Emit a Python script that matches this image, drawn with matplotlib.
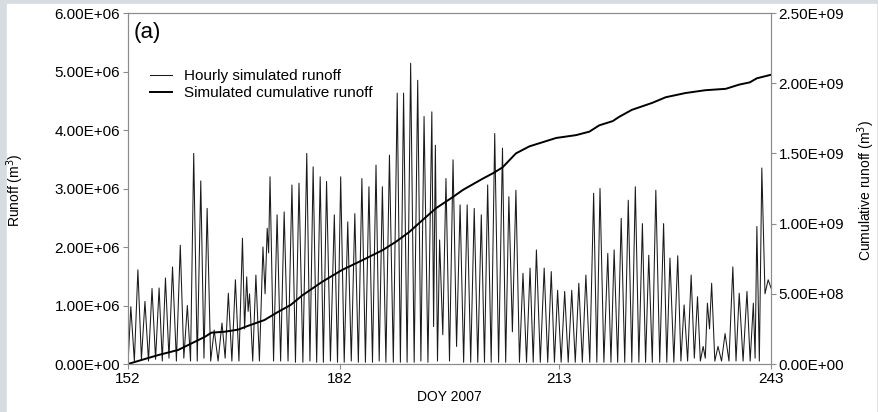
import numpy as np
import matplotlib
matplotlib.use("Agg")
import matplotlib.pyplot as plt
from matplotlib.patches import Rectangle
from matplotlib.ticker import FuncFormatter

plt.rcParams["font.family"] = ["Liberation Sans", "DejaVu Sans"]

# daily runoff peaks (DOY, million m3)
peak_doy = [152.4, 153.4, 154.4, 155.4, 156.4, 157.3, 158.3, 159.4, 160.4, 161.3,
            162.3, 163.2, 164.2, 165.3, 166.2, 167.2, 168.2, 168.8, 169.2, 170.1,
            171.1, 171.7, 172.1, 173.1, 174.1, 175.2, 176.2, 177.3, 178.2, 179.2,
            180.1, 181.2, 182.1, 183.1, 184.1, 185.1, 186.1, 187.1, 188.0, 189.0,
            190.1, 191.0, 192.0, 193.0, 193.9, 195.0, 195.5, 196.1, 197.0, 198.0,
            199.0, 200.0, 201.0, 202.0, 202.9, 203.9, 205.0, 205.9, 206.9, 207.9,
            208.9, 209.8, 210.9, 211.9, 212.8, 213.8, 214.8, 215.8, 216.8, 217.9,
            218.8, 219.9, 220.8, 221.8, 222.8, 223.8, 224.8, 225.7, 226.7, 227.8,
            228.7, 229.8, 230.7, 231.7, 232.6, 233.4, 234.0, 234.6, 235.5, 236.5,
            237.6, 238.5, 239.6, 240.5, 241.0, 241.7, 242.6]
peak_runoff = [0.98, 1.61, 1.07, 1.29, 1.30, 1.47, 1.66, 2.03, 1.00, 3.60,
               3.13, 2.66, 0.58, 0.70, 1.21, 1.44, 2.15, 1.49, 1.20, 1.52,
               2.00, 2.32, 3.20, 2.55, 2.60, 3.06, 3.09, 3.60, 3.37, 3.20,
               3.12, 2.55, 3.20, 2.43, 2.57, 3.17, 3.03, 3.40, 3.03, 3.57,
               4.63, 4.63, 5.14, 4.85, 4.23, 4.31, 3.74, 2.12, 3.17, 3.49,
               2.72, 2.72, 2.66, 2.55, 3.06, 3.94, 3.69, 2.86, 2.97, 1.55,
               1.64, 1.95, 1.64, 1.58, 1.26, 1.24, 1.26, 1.38, 1.52, 2.92,
               3.00, 1.89, 1.95, 2.49, 2.80, 3.03, 2.40, 1.86, 2.97, 2.40,
               1.81, 1.85, 1.01, 1.52, 1.15, 0.30, 1.04, 1.38, 0.30, 0.52,
               1.66, 1.21, 1.24, 1.04, 2.35, 3.35, 1.44]
# minimum reached after each peak (million m3)
trough_runoff = [0.05, 0.08, 0.05, 0.08, 0.05, 0.10, 0.05, 0.10, 0.05, 0.05,
                 0.10, 0.05, 0.05, 0.10, 0.05, 0.05, 0.60, 0.90, 0.05, 0.05,
                 1.20, 1.90, 0.05, 0.05, 0.05, 0.03, 0.03, 0.05, 0.03, 0.03,
                 0.05, 0.03, 0.03, 0.05, 0.03, 0.03, 0.03, 0.05, 0.03, 0.03,
                 0.03, 0.03, 0.03, 0.05, 0.03, 0.64, 0.05, 0.50, 0.05, 0.30,
                 0.03, 0.03, 0.03, 0.03, 0.03, 0.03, 0.03, 0.55, 0.03, 0.03,
                 0.03, 0.03, 0.03, 0.03, 0.03, 0.03, 0.03, 0.03, 0.03, 0.03,
                 0.03, 0.03, 0.03, 0.03, 0.03, 0.03, 0.03, 0.03, 0.03, 0.03,
                 0.03, 0.05, 0.05, 0.10, 0.05, 0.10, 0.60, 0.05, 0.05, 0.05,
                 0.05, 0.05, 0.05, 0.10, 0.05, 1.20]
start_runoff = 0.0
end_runoff = 1.30

# cumulative runoff (DOY, billion m3)
cum_doy = [152.0, 154.0, 156.3, 159.1, 161.0, 162.9, 163.8, 165.7, 167.6, 169.0,
           171.3, 173.2, 175.0, 176.7, 179.5, 182.3, 185.2, 188.0, 189.9, 191.8,
           193.7, 195.6, 198.0, 199.4, 202.2, 203.7, 205.0, 206.9, 208.8, 210.7,
           212.6, 215.4, 217.3, 218.7, 220.6, 221.5, 223.3, 226.2, 228.1, 230.9,
           233.7, 236.6, 238.5, 240.0, 241.0, 243.0]
cum_runoff = [0.0, 0.03, 0.064, 0.10, 0.147, 0.194, 0.223, 0.230, 0.245, 0.272,
              0.313, 0.37, 0.42, 0.49, 0.586, 0.67, 0.74, 0.81, 0.87, 0.94,
              1.026, 1.11, 1.19, 1.24, 1.32, 1.36, 1.40, 1.50, 1.55, 1.58,
              1.61, 1.63, 1.655, 1.70, 1.73, 1.76, 1.81, 1.86, 1.90, 1.93,
              1.95, 1.96, 1.99, 2.006, 2.035, 2.06]

x_ticks = [152, 182, 213, 243]

# peak / trough vertices of the hourly hydrograph
hx = [152.0]
hy = [start_runoff]
for i in range(len(peak_doy)):
    hx.append(peak_doy[i])
    hy.append(peak_runoff[i])
    if i < len(trough_runoff):
        hx.append((peak_doy[i] + peak_doy[i + 1]) / 2)
        hy.append(trough_runoff[i])
hx.append(243.0)
hy.append(end_runoff)
hy = np.array(hy) * 1e6

fig = plt.figure(figsize=(8.79, 4.12), dpi=100, facecolor="#d6dce0")
fig.patches.append(Rectangle((7 / 879, 0), 869 / 879, 408 / 412,
                             transform=fig.transFigure, color="white", zorder=-1))

ax = fig.add_axes([128 / 879, 1 - 364 / 412, 643 / 879, 351 / 412])
ax2 = ax.twinx()

l1, = ax.plot(hx, hy, color="#1a1a1a", lw=0.75, label="Hourly simulated runoff")
l2, = ax2.plot(cum_doy, np.array(cum_runoff) * 1e9, color="black", lw=1.4,
               label="Simulated cumulative runoff")

ax.set_xlim(152, 243)
ax.set_ylim(0, 6e6)
ax2.set_ylim(0, 2.5e9)
ax.set_xticks(x_ticks)
ax.set_yticks(np.arange(0, 6.1e6, 1e6))
ax2.set_yticks(np.arange(0, 2.6e9, 5e8))
fmt = FuncFormatter(lambda v, p: f"{v:.2E}")
ax.yaxis.set_major_formatter(fmt)
ax2.yaxis.set_major_formatter(fmt)

for a in (ax, ax2):
    for s in a.spines.values():
        s.set_color("#8c8c8c")
        s.set_linewidth(0.8)
    a.tick_params(length=3.5, width=0.8, color="#8c8c8c", labelsize=11, pad=2)

ax.text(0.008, 0.975, "(a)", transform=ax.transAxes, va="top", ha="left", fontsize=16)
ax2.legend([l1, l2], [l1.get_label(), l2.get_label()], loc="upper left",
           bbox_to_anchor=(0.034, 0.84), frameon=False, fontsize=11,
           handlelength=1.45, handletextpad=0.8, labelspacing=0.2,
           borderpad=0, borderaxespad=0)

fig.text(15 / 879, 1 - 190 / 412, "Runoff (m$^3$)", rotation=90,
         ha="center", va="center", fontsize=10)
fig.text(866 / 879, 1 - 190 / 412, "Cumulative runoff (m$^3$)", rotation=90,
         ha="center", va="center", fontsize=10)
fig.text(449 / 879, 1 - 397 / 412, "DOY 2007", ha="center", va="center", fontsize=10)

fig.savefig("out.png", dpi=100, facecolor=fig.get_facecolor())
